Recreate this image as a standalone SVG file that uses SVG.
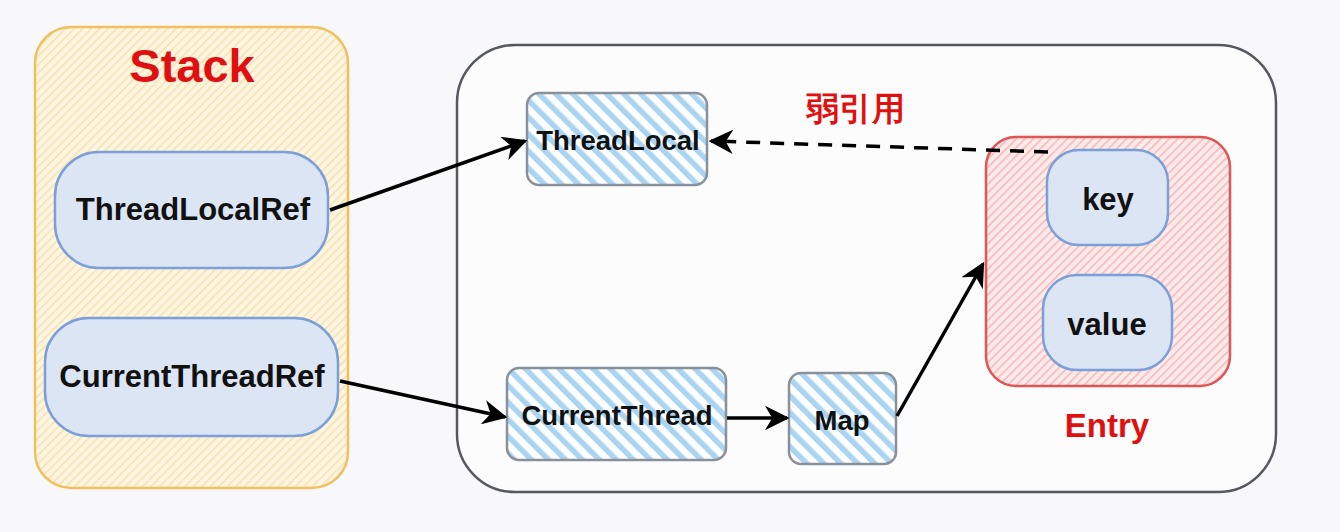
<svg xmlns="http://www.w3.org/2000/svg" width="1340" height="532" viewBox="0 0 1340 532">
<defs>
<style>
text{font-family:"Liberation Sans",Arial,sans-serif;font-weight:bold;text-anchor:middle}
.lbl{font-size:31px;fill:#111}
.blbl{font-size:27.5px;fill:#111}
.red{fill:#e01010}
.pill{fill:#dce5f4;stroke:#7b9fd8;stroke-width:2.5}
.blue{fill:url(#hBlue);stroke:#8a8f99;stroke-width:2.5}
.conn{stroke:#000;stroke-width:3.5;fill:none}
</style>
<pattern id="hBlue" width="12" height="12" patternUnits="userSpaceOnUse" patternTransform="rotate(-45)">
<rect width="12" height="12" fill="#ffffff"/>
<rect width="5.5" height="12" fill="#a9d4f2"/>
</pattern>
<pattern id="hYellow" width="6" height="6" patternUnits="userSpaceOnUse" patternTransform="rotate(45)">
<rect width="6" height="6" fill="#fdf5df"/>
<rect width="1.4" height="6" fill="#f5dfae"/>
</pattern>
<pattern id="hPink" width="6" height="6" patternUnits="userSpaceOnUse" patternTransform="rotate(45)">
<rect width="6" height="6" fill="#fdeaea"/>
<rect width="1.6" height="6" fill="#f6b9b9"/>
</pattern>
<marker id="arr" viewBox="0 0 10 10" refX="9" refY="5" markerWidth="7" markerHeight="7" markerUnits="strokeWidth" orient="auto">
<path d="M0,0 L10,5 L0,10 L3,5 Z" fill="#000"/>
</marker>
</defs>
<rect width="1340" height="532" fill="#f8f8fa"/>

<g id="stack">
<rect x="35" y="27" width="313" height="461" rx="36" fill="url(#hYellow)" stroke="#f0c060" stroke-width="2.5"/>
<text x="192" y="82" font-size="47" class="red">Stack</text>
</g>

<g id="container">
<rect x="457" y="45" width="819" height="447" rx="58" fill="#fcfcfd" stroke="#55585e" stroke-width="2.5"/>
</g>

<g id="threadLocalRef">
<rect x="55" y="152" width="273" height="116" rx="44" class="pill"/>
<text x="193" y="220" class="lbl">ThreadLocalRef</text>
</g>

<g id="currentThreadRef">
<rect x="45" y="318" width="293" height="118" rx="44" class="pill"/>
<text x="192" y="387" class="lbl">CurrentThreadRef</text>
</g>

<g id="threadLocal">
<rect x="527" y="93" width="180" height="92" rx="12" class="blue"/>
<text x="618" y="150" class="blbl">ThreadLocal</text>
</g>

<g id="currentThread">
<rect x="507" y="368" width="219" height="92" rx="12" class="blue"/>
<text x="617" y="425" class="blbl">CurrentThread</text>
</g>

<g id="map">
<rect x="789" y="373" width="107" height="91" rx="12" class="blue"/>
<text x="842" y="430" class="blbl">Map</text>
</g>

<g id="entry">
<rect x="986" y="137" width="244" height="249" rx="30" fill="url(#hPink)" stroke="#e05555" stroke-width="2.5"/>
<text x="1107" y="437" font-size="33" class="red">Entry</text>
</g>

<g id="key">
<rect x="1047" y="150" width="121" height="95" rx="32" class="pill"/>
<text x="1108" y="210" class="lbl">key</text>
</g>

<g id="value">
<rect x="1043" y="275" width="129" height="95" rx="34" class="pill"/>
<text x="1107" y="335" class="lbl">value</text>
</g>

<g id="weakLabel">
<text x="855" y="120" font-size="33" class="red" font-family="'Noto Sans CJK SC',sans-serif">弱引用</text>
</g>

<g id="connectors">
<line x1="330" y1="210" x2="525" y2="141" class="conn" marker-end="url(#arr)"/>
<line x1="340" y1="381" x2="505" y2="417" class="conn" marker-end="url(#arr)"/>
<line x1="727" y1="418" x2="787" y2="418" class="conn" marker-end="url(#arr)"/>
<line x1="897" y1="416" x2="983" y2="264" class="conn" marker-end="url(#arr)"/>
<line x1="1048" y1="152" x2="711" y2="141" class="conn" stroke-dasharray="14 10" marker-end="url(#arr)"/>
</g>
</svg>
